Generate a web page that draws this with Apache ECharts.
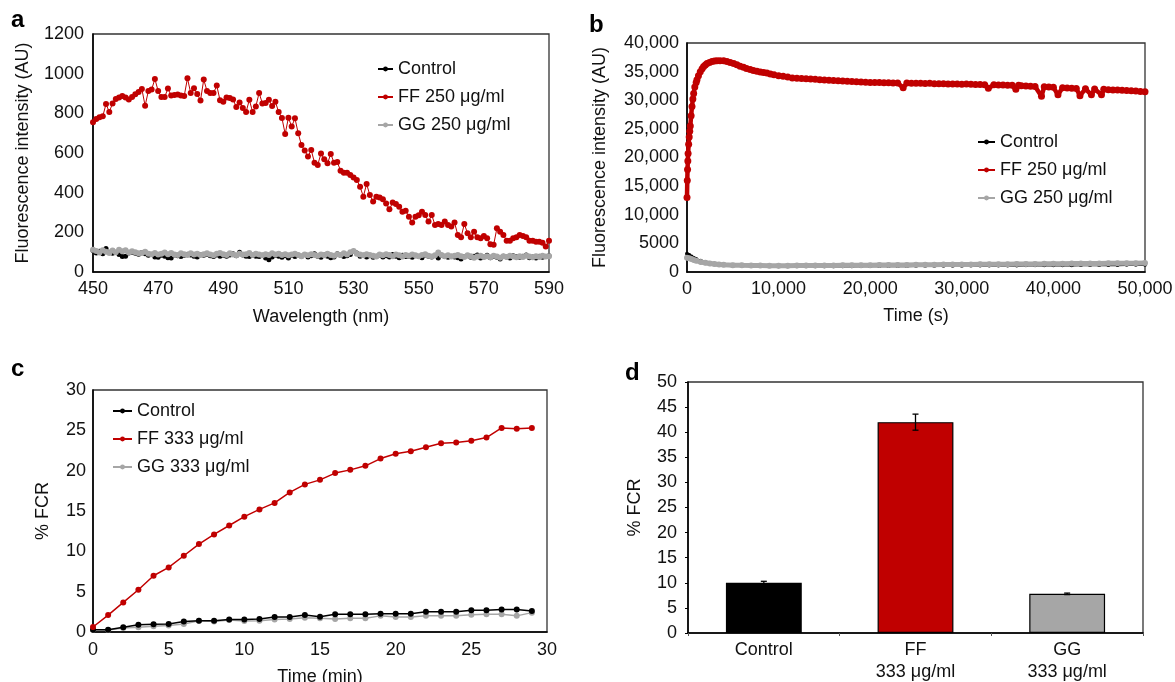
<!DOCTYPE html>
<html>
<head>
<meta charset="utf-8">
<script src="https://cdn.jsdelivr.net/npm/echarts@6/dist/echarts.min.js"></script>
<style>
html,body{margin:0;padding:0;background:#fff;}
#chart{width:1175px;height:682px;}
</style>
</head>
<body>
<div id="chart"></div>
<script>
// ---------- Panel a: emission spectra (450-590 nm, 1 nm steps) ----------
const aStartNm = 450;
const aFF = [
 755,772,780,785,847,807,850,872,880,887,
 880,870,882,896,907,923,838,913,920,973,
 913,882,882,925,890,893,895,890,887,977,
 902,927,898,865,970,913,902,902,940,866,
 858,880,877,870,832,855,827,807,868,807,
 835,903,850,852,868,837,858,807,777,696,
 778,733,775,700,
 640,612,582,615,551,540,598,568,548,595,
 551,554,511,501,501,489,477,464,430,380,
 444,388,355,380,376,367,346,316,350,343,
 329,304,309,279,249,279,286,304,287,254,
 287,237,242,237,254,237,229,249,187,175,
 242,195,175,203,175,170,182,170,
 140,137,220,203,187,158,158,170,175,187,
 182,175,158,158,153,153,148,128,158
];
const aControl = [
 108,96,104,92,118,100,94,98,88,78,
 80,96,100,94,90,98,92,84,88,76,
 74,84,80,72,70,86,82,78,84,90,
 86,80,76,88,84,90,82,78,86,80,
 84,80,86,92,82,100,86,80,78,84,
 80,78,84,70,62,76,84,80,74,82,
 70,84,78,86,80,88,76,82,92,80,
 74,86,80,72,76,92,84,78,82,88,
 104,96,80,84,76,82,74,80,86,76,
 82,76,88,80,72,84,78,80,74,82,
 78,72,86,80,76,82,70,84,78,74,
 80,76,72,66,78,82,74,80,86,70,
 76,84,72,78,74,66,80,76,70,82,
 78,74,80,86,72,76,70,80,74,78,
 82
];
const aGG = [
 112,106,98,110,102,96,108,100,112,104,
 110,98,104,100,94,96,102,92,90,96,
 88,92,98,90,96,88,86,94,90,86,
 94,88,92,86,90,94,88,84,92,96,
 90,86,94,88,84,92,88,90,96,86,
 92,88,84,90,86,94,88,92,86,90,
 84,88,92,86,80,88,84,90,86,82,
 88,84,92,86,82,90,86,94,88,100,
 106,92,88,84,90,86,82,78,88,84,
 90,86,80,88,84,78,86,82,88,84,
 80,86,90,82,78,84,98,86,80,84,
 78,82,86,80,76,84,80,72,78,82,
 76,80,74,82,78,72,80,76,82,78,
 74,80,76,82,78,74,80,76,82,78,
 80
];

// ---------- Panel b: kinetics (time in s) ----------
const bFFTime = [
 0,30,60,90,120,180,240,300,360,450,545,640,727,850,1000,1090,1250,1450,1650,1815,
 2000,2180,2450,2725,3000,3270,3600,4000,4360,4720,5100,5450,5800,6170,6500,6900,
 7250,7630,8000,8360,8720,9100,9500,10000,10500,11000,11500,12000,12500,13000,13500,
 14000,14500,15000,15500,16000,16500,17000,17500,18000,18500,19000,19500,20000,20500,
 21000,21500,22000,22500,23000,23600,24000,24500,25000,25500,26000,26500,27000,27500,
 28000,28500,29000,29500,30000,30500,31000,31500,32000,32500,32900,33500,34000,34500,
 35000,35500,35900,36200,36500,37000,37500,38000,38700,39000,39500,40000,40500,41000,
 41500,42000,42500,42900,43500,44150,44500,45250,45500,46000,46500,47000,47500,48000,
 48500,49000,49500,50000
];
const bFF = [
 13000,16000,17900,19400,20700,22300,23600,24600,25500,27300,28900,30200,31200,32300,33100,33600,34300,35000,35500,35900,
 36150,36400,36600,36780,36850,36900,36920,36880,36750,36600,36400,36200,35950,35750,35550,35350,
 35200,35050,34950,34850,34750,34600,34450,34300,34200,34050,33900,33850,33800,33750,33700,
 33680,33600,33550,33500,33450,33420,33380,33320,33280,33250,33200,33150,33100,33100,
 33080,33050,33050,33020,33000,32200,33000,32980,32950,32950,32920,32950,32900,32900,
 32880,32850,32850,32820,32800,32820,32780,32750,32750,32700,32100,32700,32680,32650,
 32620,32600,31900,32600,32550,32500,32450,32400,30700,32350,32300,32250,30950,32200,
 32150,32100,32050,30800,32000,30950,31950,30950,31900,31850,31800,31780,31750,31700,
 31650,31600,31550,31500
];
const bCtlTime = [
 0,250,500,750,1000,1500,2000,2500,3000,3500,4000,5000,6000,7000,8000,9000,10000,
 11000,12000,13000,14000,15000,16000,17000,18000,19000,20000,21000,22000,23000,24000,
 25000,26000,27000,28000,29000,30000,31000,32000,33000,34000,35000,36000,37000,38000,
 39000,40000,41000,42000,43000,44000,45000,46000,47000,48000,49000,50000
];
const bControl = [
 3200,2950,2700,2450,2250,1950,1720,1560,1440,1350,1280,1180,1120,1080,1050,1030,1020,
 1010,1010,1000,1005,1010,1010,1020,1025,1030,1035,1045,1050,1060,1065,
 1075,1080,1090,1095,1105,1110,1120,1125,1135,1140,1150,1155,1165,1170,
 1180,1185,1195,1200,1210,1215,1225,1230,1240,1245,1255,1260
];
const bGG = [
 2500,2380,2250,2100,1980,1760,1600,1480,1390,1320,1270,1200,1160,1130,1120,1110,1105,
 1110,1115,1120,1130,1140,1150,1160,1170,1185,1195,1205,1215,1230,1240,
 1255,1265,1275,1290,1300,1315,1325,1340,1350,1365,1375,1390,1400,1415,
 1425,1440,1450,1465,1475,1490,1500,1515,1525,1540,1550,1565
];

// ---------- Panel c: %FCR vs time (min) ----------
const cTime = [0,1,2,3,4,5,6,7,8,9,10,11,12,13,14,15,16,17,18,19,20,21,22,23,24,25,26,27,28,29];
const cControl = [0.28,0.28,0.6,0.9,0.95,1.0,1.3,1.4,1.4,1.55,1.55,1.6,1.85,1.85,2.1,1.9,2.2,2.2,2.2,2.25,2.25,2.25,2.5,2.5,2.5,2.7,2.7,2.8,2.8,2.6];
const cFF = [0.62,2.1,3.67,5.24,6.97,8.0,9.45,10.9,12.1,13.2,14.3,15.2,16.0,17.3,18.3,18.86,19.7,20.1,20.6,21.5,22.1,22.4,22.9,23.4,23.5,23.7,24.1,25.3,25.2,25.3];
const cGG = [0.28,0.25,0.5,0.6,0.7,0.8,1.0,1.4,1.3,1.5,1.35,1.4,1.55,1.6,1.77,1.7,1.6,1.7,1.7,2.0,1.85,1.85,2.0,2.0,2.0,2.15,2.2,2.2,2.0,2.4];

// ---------- Panel d: bars with error bars ----------
const dCats = ['Control', 'FF\n333 μg/ml', 'GG\n333 μg/ml'];
const dMeans = [10.0, 42.0, 7.8];
const dErr = [0.3, 1.6, 0.15];

// ---------- legend names ----------
const nameControl = 'Control';
const nameFF250 = 'FF 250 μg/ml';
const nameGG250 = 'GG 250 μg/ml';
const nameFF333 = 'FF 333 μg/ml';
const nameGG333 = 'GG 333 μg/ml';

const FONT = '"Liberation Sans", Arial, Helvetica, sans-serif';
const RED = '#c00000', GREY = '#a6a6a6', BLACK = '#000000';
const TXT = '#111111';

function comma(v){ return v >= 10000 ? String(v).replace(/\B(?=(\d{3})+(?!\d))/g, ',') : String(v); }
function plain(v){ return String(v); }

function lbl(margin, fmt) {
  return {fontFamily: FONT, fontSize: 18, color: TXT, margin: margin, formatter: fmt || plain};
}

function valueAxis(gi, min, max, interval, name, nameGap, opts) {
  return Object.assign({
    gridIndex: gi, type: 'value', min: min, max: max, interval: interval,
    name: name, nameLocation: 'middle', nameGap: nameGap,
    nameTextStyle: {fontFamily: FONT, fontSize: 18, color: TXT},
    axisLine: {show: true, lineStyle: {color: BLACK, width: 1.6}},
    axisTick: {show: false},
    splitLine: {show: false},
    axisLabel: lbl(8)
  }, opts || {});
}

const aData = s => s.map((v, i) => [aStartNm + i, v]);
const pair = (t, v) => t.map((x, i) => [x, v[i]]);

const chart = echarts.init(document.getElementById('chart'), null, {renderer: 'canvas'});
chart.setOption({
  animation: false,
  backgroundColor: '#fff',
  textStyle: {fontFamily: FONT, color: TXT},
  title: [
    {text: 'a', left: 11, top: 8},
    {text: 'b', left: 589, top: 13},
    {text: 'c', left: 11, top: 357},
    {text: 'd', left: 625, top: 361}
  ].map(t => Object.assign(t, {padding: 0, textStyle: {fontFamily: FONT, fontSize: 24, fontWeight: 'bold', color: BLACK}})),
  grid: [
    {left: 93, top: 34, width: 456, height: 238},
    {left: 687, top: 43, width: 458, height: 229},
    {left: 93, top: 390, width: 454, height: 242},
    {left: 688, top: 382, width: 455, height: 251}
  ].map(g => Object.assign(g, {show: true, borderColor: '#333', borderWidth: 1.3, containLabel: false, outerBoundsMode: 'none'})),
  legend: [
    {data: [nameControl, nameFF250, nameGG250], left: 377, top: 60, itemWidth: 15},
    {data: [nameControl, nameFF250, nameGG250], left: 977, top: 133, itemWidth: 17},
    {data: [nameControl, nameFF333, nameGG333], left: 112, top: 402, itemWidth: 19}
  ].map(l => Object.assign(l, {orient: 'vertical', padding: 0, itemGap: 10, itemHeight: 6,
      textStyle: {fontFamily: FONT, fontSize: 18, color: TXT}})),
  xAxis: [
    valueAxis(0, 450, 590, 20, 'Wavelength (nm)', 36),
    valueAxis(1, 0, 50000, 10000, 'Time (s)', 35, {axisLabel: lbl(8, comma)}),
    valueAxis(2, 0, 30, 5, 'Time (min)', 36, {axisLabel: lbl(9)}),
    {gridIndex: 3, type: 'category', data: dCats,
     axisLine: {show: true, lineStyle: {color: BLACK, width: 1.6}},
     axisTick: {show: true, length: 3, lineStyle: {color: '#555'}},
     axisLabel: {fontFamily: FONT, fontSize: 18, color: TXT, margin: 6, lineHeight: 22}}
  ],
  yAxis: [
    valueAxis(0, 0, 1200, 200, 'Fluorescence intensity (AU)', 61, {axisLabel: lbl(9)}),
    valueAxis(1, 0, 40000, 5000, 'Fluorescence intensity (AU)', 78, {axisLabel: lbl(8, comma)}),
    valueAxis(2, 0, 30, 5, '% FCR', 41, {axisLabel: lbl(7)}),
    valueAxis(3, 0, 50, 5, '% FCR', 44, {axisTick: {show: true, length: 3, lineStyle: {color: BLACK}}, axisLabel: lbl(11)})
  ],
  series: [
    // panel a
    {name: nameControl, type: 'line', xAxisIndex: 0, yAxisIndex: 0, data: aData(aControl),
     symbol: 'circle', symbolSize: 5, lineStyle: {color: BLACK, width: 1}, itemStyle: {color: BLACK}},
    {name: nameFF250, type: 'line', xAxisIndex: 0, yAxisIndex: 0, data: aData(aFF),
     symbol: 'circle', symbolSize: 6, lineStyle: {color: RED, width: 1}, itemStyle: {color: RED}},
    {name: nameGG250, type: 'line', xAxisIndex: 0, yAxisIndex: 0, data: aData(aGG),
     symbol: 'circle', symbolSize: 6, lineStyle: {color: GREY, width: 1}, itemStyle: {color: GREY}},
    // panel b
    {name: nameControl, type: 'line', xAxisIndex: 1, yAxisIndex: 1, data: pair(bCtlTime, bControl),
     symbol: 'circle', symbolSize: 4, lineStyle: {color: BLACK, width: 2.5}, itemStyle: {color: BLACK}},
    {name: nameFF250, type: 'line', xAxisIndex: 1, yAxisIndex: 1, data: pair(bFFTime, bFF),
     symbol: 'circle', symbolSize: 7, lineStyle: {color: RED, width: 4.5}, itemStyle: {color: RED}},
    {name: nameGG250, type: 'line', xAxisIndex: 1, yAxisIndex: 1, data: pair(bCtlTime, bGG),
     symbol: 'circle', symbolSize: 6, lineStyle: {color: GREY, width: 5}, itemStyle: {color: GREY}},
    // panel c
    {name: nameControl, type: 'line', xAxisIndex: 2, yAxisIndex: 2, data: pair(cTime, cControl),
     symbol: 'circle', symbolSize: 6, lineStyle: {color: BLACK, width: 1.5}, itemStyle: {color: BLACK}, z: 3},
    {name: nameFF333, type: 'line', xAxisIndex: 2, yAxisIndex: 2, data: pair(cTime, cFF),
     symbol: 'circle', symbolSize: 6, lineStyle: {color: RED, width: 1.5}, itemStyle: {color: RED}},
    {name: nameGG333, type: 'line', xAxisIndex: 2, yAxisIndex: 2, data: pair(cTime, cGG),
     symbol: 'circle', symbolSize: 6, lineStyle: {color: GREY, width: 1.5}, itemStyle: {color: GREY}, z: 2},
    // panel d
    {type: 'bar', xAxisIndex: 3, yAxisIndex: 3, barWidth: '50%',
     data: dMeans.map((v, i) => ({value: v, itemStyle: {color: [BLACK, RED, GREY][i]}})),
     itemStyle: {borderColor: BLACK, borderWidth: 1.2}},
    {type: 'custom', xAxisIndex: 3, yAxisIndex: 3, z: 5,
     data: dMeans.map((v, i) => [i, v - dErr[i], v + dErr[i]]),
     renderItem: function (params, api) {
       const lo = api.coord([api.value(0), api.value(1)]);
       const hi = api.coord([api.value(0), api.value(2)]);
       const hw = 3;
       const st = {stroke: BLACK, lineWidth: 1.3};
       return {type: 'group', children: [
         {type: 'line', shape: {x1: hi[0], y1: hi[1], x2: lo[0], y2: lo[1]}, style: st},
         {type: 'line', shape: {x1: hi[0] - hw, y1: hi[1], x2: hi[0] + hw, y2: hi[1]}, style: st},
         {type: 'line', shape: {x1: lo[0] - hw, y1: lo[1], x2: lo[0] + hw, y2: lo[1]}, style: st}
       ]};
     }}
  ]
});
</script>
</body>
</html>
